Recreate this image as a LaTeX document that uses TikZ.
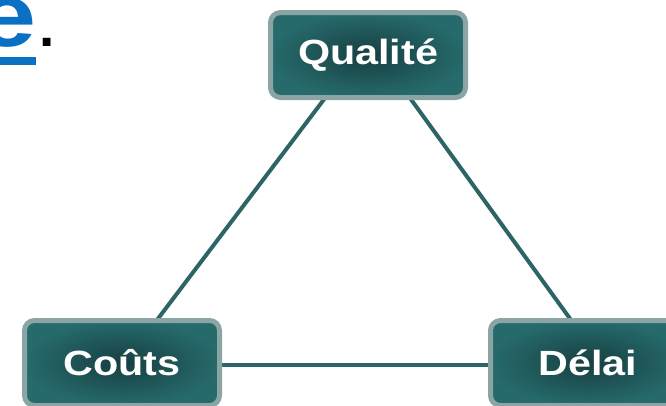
\documentclass[tikz,border=0pt]{standalone}
\usepackage{fontspec}
\usepackage{graphicx}
\setmainfont{Liberation Sans}
\usetikzlibrary{backgrounds,calc}
\definecolor{boxborder}{HTML}{8BA4A4}
\definecolor{boxin}{HTML}{173F42}
\definecolor{boxout}{HTML}{266A6B}
\definecolor{linkcol}{HTML}{2D6566}
\definecolor{linkblue}{HTML}{0A70C4}
\begin{document}
\begin{tikzpicture}[x=1pt,y=-1pt,
  box/.style={rectangle, rounded corners=10pt, draw=boxborder, line width=5pt,
    inner color=boxin, outer color=boxout, minimum width=195pt, minimum height=85pt,
    text=white, font=\bfseries\fontsize{35}{40}\selectfont},
  link/.style={draw=linkcol, line width=4pt}]
\useasboundingbox (0,0) rectangle (666,405);
\clip (0,0) rectangle (666,405);
\node[box] (q) at (368,55) {\scalebox{1.18}[1]{Qualité}};
\node[box] (c) at (122,363) {\scalebox{1.18}[1]{Coûts}};
\node[box] (d) at (588,363) {\scalebox{1.18}[1]{Délai}};
\begin{pgfonlayer}{background}
\draw[link] ($(q.south)+(-43,-2)$) -- ($(c.north)+(35,2)$);
\draw[link] ($(q.south)+(42,-2)$) -- ($(d.north)+(-17,2)$);
\draw[link] ($(c.east)+(-2,2)$) -- ($(d.west)+(2,2)$);
\end{pgfonlayer}
\node[anchor=base east, inner sep=0, text=linkblue, font=\bfseries\fontsize{90}{90}\selectfont] (e) at (37,46) {\scalebox{1.2}[1]{e}};
\coordinate (ul) at (-5,57);
\fill[linkblue] (ul) rectangle (36,65);
\node[anchor=base west, inner sep=0, text=black, font=\bfseries\fontsize{55}{55}\selectfont] (p) at (39,46) {.};
\end{tikzpicture}
\end{document}
